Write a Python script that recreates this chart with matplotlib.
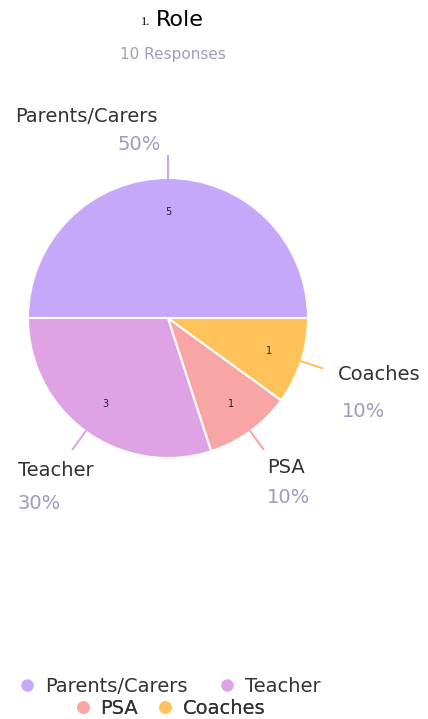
import numpy as np
import matplotlib.pyplot as plt
from matplotlib.lines import Line2D

plt.rcParams['font.family'] = ['DejaVu Sans']

# data
roles = ["Parents/Carers", "Teacher", "PSA", "Coaches"]
counts = [5, 3, 1, 1]
colors = ["#c6a8fa", "#dfa2e5", "#f7a5a5", "#fdc25a"]
total = sum(counts)

W, H = 428, 719
fig = plt.figure(figsize=(W / 100, H / 100), dpi=100)
ax = fig.add_axes([0, 0, 1, 1])

cx, cy, r = 168, 401, 140
wedges, texts = ax.pie(counts, colors=colors, startangle=0, counterclock=True,
                       center=(cx, cy), radius=r, frame=True,
                       wedgeprops=dict(edgecolor='white', linewidth=1.5))
ax.set_xlim(0, W)
ax.set_ylim(0, H)
ax.set_aspect('equal')
ax.axis('off')

# counts inside slices
for w, c in zip(wedges, counts):
    a = np.deg2rad((w.theta1 + w.theta2) / 2)
    ax.text(cx + 0.76 * r * np.cos(a), cy + 0.76 * r * np.sin(a), str(c),
            fontsize=7, ha='center', va='center', color='#222222')

# leader lines and outside labels (offsets from the end of the leader line)
label_off = {
    "Parents/Carers": ((-153, 40), (-50, 11)),
    "Teacher": ((-55, -21), (-55, -54)),
    "PSA": ((4, -18), (4, -48)),
    "Coaches": ((16, -6), (20, -43)),
}
for w, name, c, col in zip(wedges, roles, counts, colors):
    a = np.deg2rad((w.theta1 + w.theta2) / 2)
    x0, y0 = cx + r * np.cos(a), cy + r * np.sin(a)
    x1, y1 = cx + (r + 22) * np.cos(a), cy + (r + 22) * np.sin(a)
    ax.plot([x0, x1], [y0, y1], color=col, lw=1.5)
    (dx, dy), (px, py) = label_off[name]
    ax.text(x1 + dx, y1 + dy, name, fontsize=14, color='#333333',
            ha='left', va='center')
    ax.text(x1 + px, y1 + py, f"{round(100 * c / total)}%", fontsize=14,
            color='#9c9cb9', ha='left', va='center')

# title
ax.text(150, H - 22, "1.", fontsize=9, family='Liberation Serif',
        ha='right', va='center', color='black')
ax.text(156, H - 20, "Role", fontsize=16, ha='left', va='center', color='black')
ax.text(173, H - 55, f"{total} Responses", fontsize=11, ha='center',
        va='center', color='#9e9eb8')

# legend in two centred rows
def handle(col):
    return Line2D([], [], marker='o', ls='', markersize=8, color=col)

rows = [(0, 2, 33, 1.45), (2, 4, 11, 0.8)]
for i0, i1, yy, gap in rows:
    leg = ax.legend([handle(c) for c in colors[i0:i1]], roles[i0:i1], ncol=2,
                    loc='center', bbox_to_anchor=(cx / W, yy / H),
                    frameon=False, fontsize=14, handletextpad=0.3,
                    columnspacing=gap, handlelength=1.2, borderpad=0,
                    labelcolor='#333333')
    ax.add_artist(leg)

fig.savefig("out.png", dpi=100)
